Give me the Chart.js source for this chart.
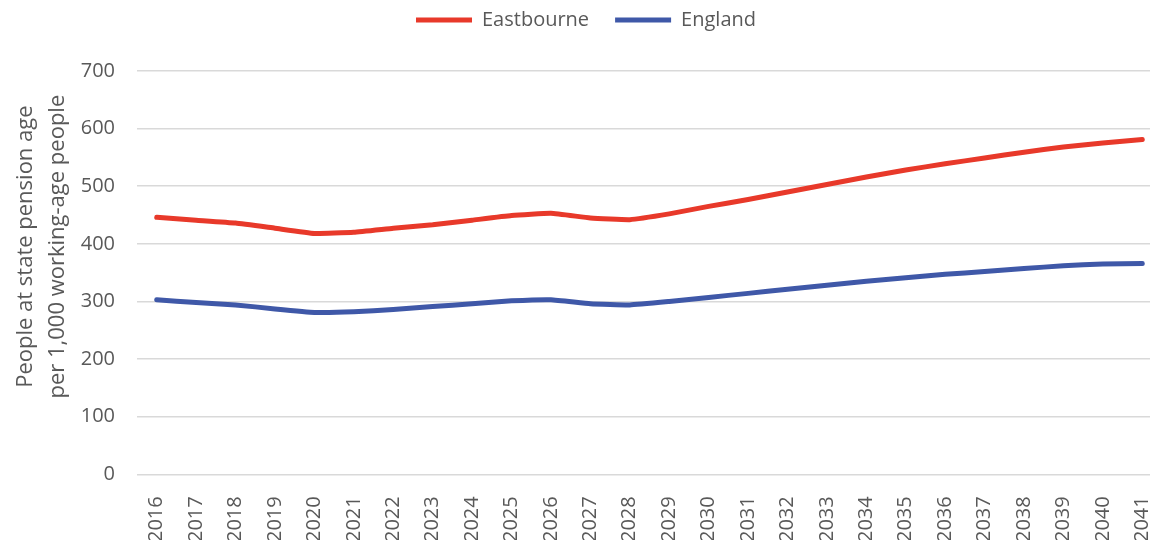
<!DOCTYPE html>
<html>
<head>
<meta charset="utf-8">
<script src="https://cdn.jsdelivr.net/npm/chart.js@4"></script>
<style>
    html, body { margin: 0; padding: 0; background: #fff; overflow: hidden; }
    #wrap { width: 1162px; height: 540px; }
</style>
</head>
<body>
<div id="wrap"><canvas id="pensionChart"></canvas></div>
<script>
// Ratio of people at state pension age to working-age people
const years = ['2016', '2017', '2018', '2019', '2020', '2021', '2022', '2023', '2024',
    '2025', '2026', '2027', '2028', '2029', '2030', '2031', '2032', '2033', '2034',
    '2035', '2036', '2037', '2038', '2039', '2040', '2041'];
const eastbourne = [446, 441, 436, 427, 418, 420, 427, 433, 441, 449, 453, 445, 442,
    452, 465, 477, 490, 503, 516, 528, 539, 549, 559, 568, 575, 581];
const england = [303, 298, 294, 287, 281, 282, 286, 291, 296, 301, 303, 296, 294,
    300, 307, 314, 321, 328, 335, 341, 347, 352, 357, 362, 365, 366];
const yTicks = [0, 100, 200, 300, 400, 500, 600, 700];

const textColor = '#595959';
const fontFamily = '"Open Sans", "Liberation Sans", sans-serif';

// leave extra room under the legend
const legendGap = {
    id: 'legendGap',
    beforeInit(chart) {
        const fit = chart.legend.fit;
        chart.legend.fit = function () {
            fit.bind(chart.legend)();
            this.height += 31;
        };
    }
};

// y title sits a little above the middle of the axis, like the original
const raiseTitle = {
    id: 'raiseTitle',
    beforeDraw(chart) {
        const axis = chart.scales.y;
        if (!axis || axis._raised) return;
        const orig = axis.drawTitle;
        axis.drawTitle = function () {
            this.ctx.save();
            this.ctx.translate(0, -26);
            orig.apply(this, arguments);
            this.ctx.restore();
        };
        axis._raised = true;
    }
};

document.addEventListener('DOMContentLoaded', function () {
    initPensionChart();
});

function initPensionChart() {
    const ctx = document.getElementById('pensionChart');
    if (!ctx) return;

    new Chart(ctx, {
        type: 'line',
        data: {
            labels: years,
            datasets: [
                {
                    label: 'Eastbourne',
                    data: eastbourne,
                    borderColor: '#e8392a',
                    backgroundColor: '#e8392a',
                    borderWidth: 5,
                    borderCapStyle: 'round',
                    pointRadius: 0,
                    tension: 0.12
                },
                {
                    label: 'England',
                    data: england,
                    borderColor: '#3f58a8',
                    backgroundColor: '#3f58a8',
                    borderWidth: 5,
                    borderCapStyle: 'round',
                    pointRadius: 0,
                    tension: 0.12
                }
            ]
        },
        options: {
            responsive: true,
            maintainAspectRatio: false,
            animation: false,
            layout: {
                padding: { top: -16, left: 10, right: 0, bottom: -16 }
            },
            plugins: {
                legend: {
                    position: 'top',
                    labels: {
                        usePointStyle: true,
                        pointStyle: 'line',
                        pointStyleWidth: 56,
                        boxHeight: 5,
                        padding: 26,
                        color: textColor,
                        font: {
                            family: fontFamily,
                            size: 20
                        }
                    }
                },
                tooltip: { enabled: false }
            },
            scales: {
                x: {
                    offset: true,
                    afterFit: function (axis) {
                        axis.paddingLeft = 0;
                        axis.paddingRight = 0;
                    },
                    grid: {
                        display: false
                    },
                    border: {
                        display: false
                    },
                    ticks: {
                        color: textColor,
                        maxRotation: 90,
                        minRotation: 90,
                        autoSkip: false,
                        padding: 14,
                        font: {
                            family: fontFamily,
                            size: 20
                        }
                    }
                },
                y: {
                    min: 0,
                    max: 700,
                    afterBuildTicks: function (axis) {
                        axis.ticks = yTicks.map(v => ({ value: v }));
                    },
                    afterFit: function (axis) {
                        axis.width = 127;
                    },
                    grid: {
                        color: '#d9d9d9',
                        lineWidth: 1.5,
                        drawTicks: false
                    },
                    border: {
                        display: false
                    },
                    title: {
                        display: true,
                        text: ['People at state pension age', 'per 1,000 working-age people'],
                        color: textColor,
                        padding: { top: 0, bottom: 8 },
                        font: {
                            family: fontFamily,
                            size: 22,
                            lineHeight: 1.45
                        }
                    },
                    ticks: {
                        color: textColor,
                        padding: 22,
                        font: {
                            family: fontFamily,
                            size: 20
                        }
                    }
                }
            }
        },
        plugins: [legendGap, raiseTitle]
    });
}
</script>
</body>
</html>
